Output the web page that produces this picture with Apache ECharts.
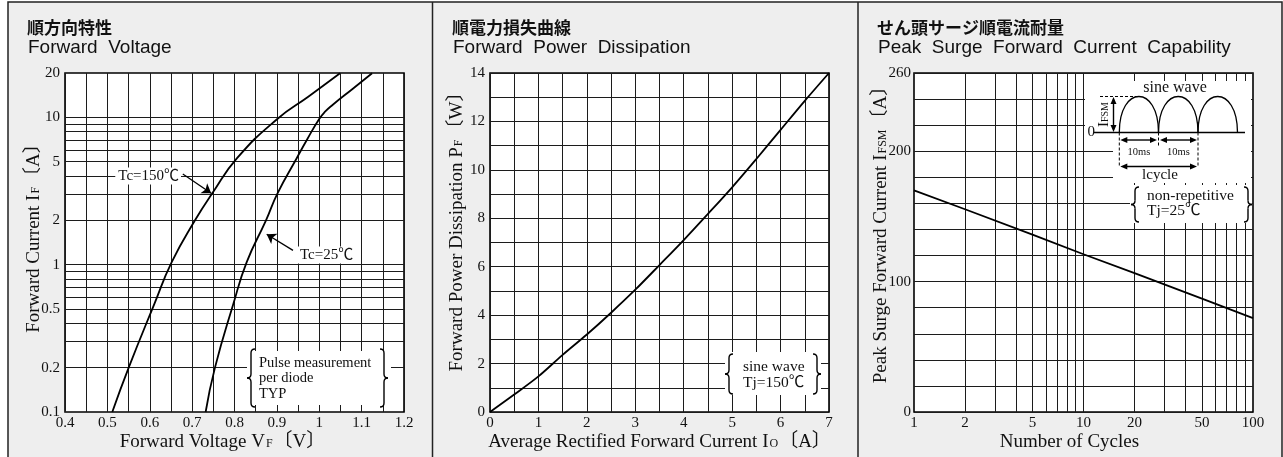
<!DOCTYPE html>
<html><head><meta charset="utf-8">
<script src="https://cdn.jsdelivr.net/npm/echarts@6/dist/echarts.min.js"></script>
<style>html,body{margin:0;padding:0;background:#fff}#c{width:1283px;height:457px}</style>
</head><body><div id="c"></div>
<script>
// ---------- Panel 1: Forward Voltage (log current) ----------
const fvCurrent150 = [0.1, 0.2, 0.54, 1.04, 2.0, 3.05, 5.28, 9.75, 13.8, 19.9];
const fvVoltage150 = [0.5116, 0.5503, 0.6107, 0.6518, 0.7068, 0.7476, 0.8060, 0.9010, 0.9740, 1.049];
const fvCurrent25 = [0.1, 0.2, 0.54, 1.04, 2.0, 3.05, 5.28, 7.16, 9.75, 10.88, 12.14, 15.59, 19.93];
const fvVoltage25 = [0.7319, 0.7539, 0.7972, 0.8288, 0.8743, 0.9015, 0.9468, 0.9723, 0.9999, 1.0131, 1.0313, 1.0785, 1.1247];
const fvYLabels = [0.1, 0.2, 0.5, 1, 2, 5, 10, 20];
const fvYGrid = [0.2, 0.3, 0.4, 0.5, 0.6, 0.7, 0.8, 0.9, 1, 2, 3, 4, 5, 6, 7, 8, 9, 10];
const fvArrow150 = [[0.678, 4.13], [0.745, 3.05]];
const fvArrow25 = [[0.938, 1.25], [0.876, 1.61]];

// ---------- Panel 2: Forward Power Dissipation ----------
const pdCurrent = [0, 0.5, 1, 1.5, 2, 2.5, 3, 3.5, 4, 4.5, 5, 5.5, 6, 6.5, 7];
const pdPower = [0, 0.72, 1.47, 2.36, 3.2, 4.1, 5.05, 6.07, 7.1, 8.18, 9.28, 10.45, 11.65, 12.85, 14];

// ---------- Panel 3: Peak Surge Forward Current ----------
const psCycles = [1, 2, 5, 10, 20, 50, 100];
const psCurrent = [170, 155.5, 136, 121, 106.5, 87, 72];
const psXLabels = [1, 2, 5, 10, 20, 50, 100];
const psXGrid = [2, 3, 4, 5, 6, 7, 8, 9, 10, 20, 30, 40, 50, 60, 70, 80, 90];
const psYLabels = [0, 100, 200, 260];

const serif = "'Liberation Serif','Times New Roman','Noto Sans CJK JP',serif";
const sans = "'Liberation Sans',Arial,sans-serif";
const cjk = "'Noto Sans CJK JP',sans-serif";
const INK = '#111';
const GRIDC = '#1c1c1c';

function pairs(xs, ys) { return xs.map((x, i) => [x, ys[i]]); }
function fmtNum(v) { return String(+(+v).toPrecision(4)); }

const richName = {
  t: { fontFamily: serif, fontSize: 19, color: INK },
  s: { fontFamily: serif, fontSize: 12, color: INK, verticalAlign: 'bottom', padding: [0, 1, 2, 1] }
};
const tickLabel = { fontFamily: serif, fontSize: 15, color: INK };
const gridStyle = { show: true, lineStyle: { color: GRIDC, width: 1 } };

function gridCfg(left) {
  return { left: left, top: 73, width: 339, height: 339, show: true, backgroundColor: '#fff', borderColor: '#000', borderWidth: 1.6 };
}

const xAxes = [
  { gridIndex: 0, type: 'value', min: 0.4, max: 1.2, interval: 0.1,
    axisLine: { show: false }, axisTick: { show: false },
    splitLine: gridStyle, minorTick: { show: false, splitNumber: 2 }, minorSplitLine: gridStyle,
    axisLabel: Object.assign({ margin: 4, formatter: v => fmtNum(v) }, tickLabel),
    name: '{t|Forward Voltage V}{s|F}{t|〔V〕}', nameLocation: 'middle', nameGap: 20.5, nameMoveOverlap: false,
    nameTextStyle: { rich: richName, padding: [0, 24, 0, 0] } },
  { gridIndex: 1, type: 'value', min: 0, max: 7, interval: 1,
    axisLine: { show: false }, axisTick: { show: false },
    splitLine: gridStyle, minorTick: { show: false, splitNumber: 2 }, minorSplitLine: gridStyle,
    axisLabel: Object.assign({ margin: 4 }, tickLabel),
    name: '{t|Average Rectified Forward Current I}{s|O}{t|〔A〕}', nameLocation: 'middle', nameGap: 20.5, nameMoveOverlap: false,
    nameTextStyle: { rich: richName } },
  { gridIndex: 2, type: 'log', logBase: 10, min: 1, max: 100,
    axisLine: { show: false }, axisTick: { show: false }, splitLine: { show: false },
    axisLabel: Object.assign({ margin: 4, customValues: psXLabels, formatter: v => fmtNum(v) }, tickLabel),
    name: '{t|Number of Cycles}', nameLocation: 'middle', nameGap: 20.5, nameMoveOverlap: false,
    nameTextStyle: { rich: richName, padding: [0, 28, 0, 0] } }
];

const yAxes = [
  { gridIndex: 0, type: 'log', logBase: 10, min: 0.1, max: 20,
    axisLine: { show: false }, axisTick: { show: false }, splitLine: { show: false },
    axisLabel: Object.assign({ margin: 5, customValues: fvYLabels, formatter: v => fmtNum(v) }, tickLabel),
    name: '{t|Forward Current I}{s|F}{t|〔A〕}', nameLocation: 'middle', nameGap: 21.5, nameMoveOverlap: false,
    nameTextStyle: { rich: richName, padding: [0, 0, 0, 18] } },
  { gridIndex: 1, type: 'value', min: 0, max: 14, interval: 2,
    axisLine: { show: false }, axisTick: { show: false },
    splitLine: gridStyle, minorTick: { show: false, splitNumber: 2 }, minorSplitLine: gridStyle,
    axisLabel: Object.assign({ margin: 5 }, tickLabel),
    name: '{t|Forward Power Dissipation P}{s|F}{t|〔W〕}', nameLocation: 'middle', nameGap: 23.5, nameMoveOverlap: false,
    nameTextStyle: { rich: richName, padding: [0, 0, 0, 31] } },
  { gridIndex: 2, type: 'value', min: 0, max: 260, interval: 20,
    axisLine: { show: false }, axisTick: { show: false }, splitLine: gridStyle,
    axisLabel: Object.assign({ margin: 3, formatter: v => (psYLabels.indexOf(v) >= 0 ? String(v) : '') }, tickLabel),
    name: '{t|Peak Surge Forward Current I}{s|FSM}{t|〔A〕}', nameLocation: 'middle', nameGap: 23.5, nameMoveOverlap: false,
    nameTextStyle: { rich: richName, padding: [0, 0, 0, 25] } }
];

const curveStyle = { color: '#000', width: 1.8 };
const mlBase = { silent: true, symbol: 'none', label: { show: false }, animation: false };

const series = [
  { type: 'line', xAxisIndex: 0, yAxisIndex: 0, data: [], silent: true,
    markLine: Object.assign({ lineStyle: { color: GRIDC, width: 1, type: 'solid' },
      data: fvYGrid.map(v => ({ yAxis: v })) }, mlBase) },
  { type: 'line', name: 'Tc=150', xAxisIndex: 0, yAxisIndex: 0, data: pairs(fvVoltage150, fvCurrent150),
    smooth: 0.5, symbol: 'none', lineStyle: curveStyle, z: 5 },
  { type: 'line', name: 'Tc=25', xAxisIndex: 0, yAxisIndex: 0, data: pairs(fvVoltage25, fvCurrent25),
    smooth: 0.5, symbol: 'none', lineStyle: curveStyle, z: 5 },
  { type: 'line', xAxisIndex: 0, yAxisIndex: 0, data: [], silent: true, z: 6,
    markLine: { silent: true, animation: false, symbol: ['none', 'arrow'], symbolSize: 9, label: { show: false },
      lineStyle: { color: '#000', width: 1.3, type: 'solid' },
      data: [
        [{ coord: fvArrow150[0] }, { coord: fvArrow150[1] }],
        [{ coord: fvArrow25[0] }, { coord: fvArrow25[1] }]
      ] } },
  { type: 'line', xAxisIndex: 1, yAxisIndex: 1, data: pairs(pdCurrent, pdPower),
    smooth: 0.3, symbol: 'none', lineStyle: curveStyle, z: 5 },
  { type: 'line', xAxisIndex: 2, yAxisIndex: 2, data: [], silent: true,
    markLine: Object.assign({ lineStyle: { color: GRIDC, width: 1, type: 'solid' },
      data: psXGrid.map(v => ({ xAxis: v })) }, mlBase) },
  { type: 'line', xAxisIndex: 2, yAxisIndex: 2, data: pairs(psCycles, psCurrent),
    symbol: 'none', lineStyle: curveStyle, z: 5 }
];

// ---------- decorations ----------
const els = [];
function txt(x, y, text, o) {
  o = o || {};
  els.push({ type: 'text', x: x, y: y, rotation: o.rot || 0, z: 60,
    style: { text: text, fill: INK, fontFamily: o.ff || serif, fontSize: o.fs || 15, fontWeight: o.fw || 'normal',
      align: o.align || 'left', verticalAlign: o.va || 'middle', rich: o.rich,
      backgroundColor: o.bg || null, padding: o.pad || 0 } });
}
function ln(x1, y1, x2, y2, o) {
  o = o || {};
  els.push({ type: 'line', z: o.z || 60, shape: { x1: x1, y1: y1, x2: x2, y2: y2 },
    style: { stroke: o.c || '#000', lineWidth: o.w || 1.2, lineDash: o.dash || null } });
}
function rect(x, y, w, h, o) {
  o = o || {};
  els.push({ type: 'rect', z: o.z == null ? 50 : o.z, shape: { x: x, y: y, width: w, height: h },
    style: { fill: o.fill || '#fff', stroke: o.stroke || null, lineWidth: o.lw || 0 } });
}
function head(x, y, dx, dy, L, W) {
  L = L || 7; W = W || 3;
  const px = -dy, py = dx;
  els.push({ type: 'polygon', z: 61, shape: { points: [[x, y], [x - dx * L + px * W, y - dy * L + py * W], [x - dx * L - px * W, y - dy * L - py * W]] },
    style: { fill: '#000' } });
}
function qb(x1, y1, cx, cy, x2, y2) {
  els.push({ type: 'bezierCurve', z: 61, shape: { x1: x1, y1: y1, cpx1: cx, cpy1: cy, x2: x2, y2: y2 },
    style: { stroke: '#000', lineWidth: 1.4, fill: null } });
}
function brace(x, y1, y2, s) {
  const ym = (y1 + y2) / 2, r = 4;
  qb(x + r * s, y1, x, y1, x, y1 + r);
  ln(x, y1 + r, x, ym - r, { w: 1.4, z: 61 });
  qb(x, ym - r, x, ym, x - r * s, ym);
  qb(x - r * s, ym, x, ym, x, ym + r);
  ln(x, ym + r, x, y2 - r, { w: 1.4, z: 61 });
  qb(x, y2 - r, x, y2, x + r * s, y2);
}
function hump(x0, x1, yb, yp) {
  const c = yb - (yb - yp) * 4 / 3;
  els.push({ type: 'bezierCurve', z: 61, shape: { x1: x0, y1: yb, cpx1: x0, cpy1: c, cpx2: x1, cpy2: c, x2: x1, y2: yb },
    style: { stroke: '#000', lineWidth: 1.3, fill: null } });
}

// frame
rect(8, 2, 1274, 480, { fill: '#eeeeee', stroke: '#222', lw: 1.5, z: -100 });
ln(432.5, 2, 432.5, 457, { c: '#222', w: 1.5, z: -99 });
ln(858, 2, 858, 457, { c: '#222', w: 1.5, z: -99 });

// titles
txt(27, 27.5, '順方向特性', { ff: cjk, fs: 17, fw: 'bold' });
txt(28, 47.5, 'Forward  Voltage', { ff: sans, fs: 19 });
txt(452, 27.5, '順電力損失曲線', { ff: cjk, fs: 17, fw: 'bold' });
txt(453, 47.5, 'Forward  Power  Dissipation', { ff: sans, fs: 19 });
txt(877, 27.5, 'せん頭サージ順電流耐量', { ff: cjk, fs: 17, fw: 'bold' });
txt(878, 47.5, 'Peak  Surge  Forward  Current  Capability', { ff: sans, fs: 19 });

// panel 1 annotations
txt(181, 176, 'Tc=150℃', { align: 'right', fs: 15, bg: '#fff', pad: [1, 2, 1, 3] });
txt(298, 255, 'Tc=25℃', { fs: 15, bg: '#fff', pad: [1, 3, 1, 2] });
rect(247, 351, 144, 54);
brace(251, 349, 407, 1);
brace(384, 349, 407, -1);
txt(259, 363, 'Pulse measurement', { fs: 14.5 });
txt(259, 378.5, 'per diode', { fs: 14.5 });
txt(259, 394, 'TYP', { fs: 14.5 });

// panel 2 annotations
rect(725, 352, 96, 43);
brace(729, 354, 394, 1);
brace(817, 354, 394, -1);
txt(743, 367, 'sine wave', { fs: 15.5 });
txt(743, 383, 'Tj=150℃', { fs: 15.5 });

// panel 3 annotations
rect(1130, 185, 122, 38);
brace(1135, 187, 222, 1);
brace(1248, 187, 222, -1);
txt(1147, 196, 'non-repetitive', { fs: 15.5 });
txt(1147, 211, 'Tj=25℃', { fs: 15.5 });

// inset sine diagram
rect(1085, 81, 166, 59);
rect(1113, 139, 138, 44);
txt(1175, 88, 'sine wave', { fs: 16, align: 'center' });
const yb = 132.5, yp = 96.5;
const hx = [1119.3, 1158.5, 1198, 1237.5];
hump(hx[0], hx[1], yb, yp); hump(hx[1], hx[2], yb, yp); hump(hx[2], hx[3], yb, yp);
ln(1093, yb, 1245, yb, { w: 1.4 });
txt(1095, yb, '0', { align: 'right', fs: 15 });
ln(1100, yp, 1137, yp, { w: 1, dash: [3, 2] });
ln(1113.5, yp + 6, 1113.5, yb - 6, { w: 1.4 });
head(1113.5, yp + 0.5, 0, -1); head(1113.5, yb - 0.5, 0, 1);
txt(1104.5, 114.5, '{a|I}{b|FSM}', { rot: Math.PI / 2, align: 'center',
  rich: { a: { fontFamily: serif, fontSize: 15, fill: INK }, b: { fontFamily: serif, fontSize: 10, fill: INK, verticalAlign: 'bottom', padding: [0, 0, 2, 0] } } });
ln(hx[0], yb, hx[0], 167, { w: 1, dash: [3, 2] });
ln(hx[1], yb, hx[1], 147, { w: 1, dash: [3, 2] });
ln(hx[2], yb, hx[2], 167, { w: 1, dash: [3, 2] });
// 10ms arrows
ln(hx[0] + 5, 140, hx[1] - 6, 140, { w: 1.4 });
head(hx[0] + 1, 140, -1, 0); head(hx[1] - 1.5, 140, 1, 0);
ln(hx[1] + 6, 140, hx[2] - 5, 140, { w: 1.4 });
head(hx[1] + 1.5, 140, -1, 0); head(hx[2] - 1, 140, 1, 0);
txt(1139, 152.5, '10ms', { fs: 10.5, align: 'center' });
txt(1178.5, 152.5, '10ms', { fs: 10.5, align: 'center' });
// 1 cycle arrow
ln(hx[0] + 5, 166.5, hx[2] - 5, 166.5, { w: 1.4 });
head(hx[0] + 1, 166.5, -1, 0); head(hx[2] - 1, 166.5, 1, 0);
txt(1160, 175, 'lcycle', { fs: 15, align: 'center' });

const option = {
  backgroundColor: '#ffffff',
  animation: false,
  grid: [gridCfg(65), gridCfg(490), gridCfg(914)],
  xAxis: xAxes,
  yAxis: yAxes,
  series: series,
  graphic: { elements: els }
};

const chart = echarts.init(document.getElementById('c'), null, { renderer: 'canvas' });
chart.setOption(option);
</script>
</body></html>
